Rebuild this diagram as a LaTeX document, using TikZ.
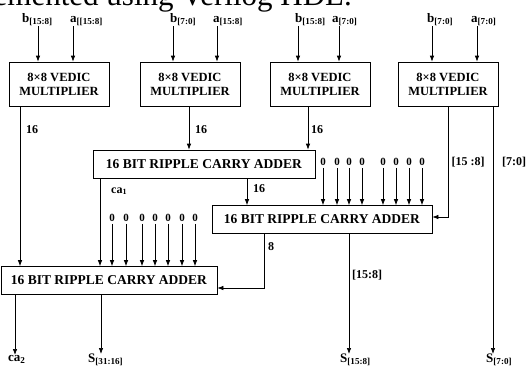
\documentclass[tikz,border=0pt]{standalone}
\usepackage{fontspec}
\setmainfont{Liberation Serif}
\usetikzlibrary{arrows.meta}
\begin{document}
\begin{tikzpicture}[x=1pt, y=-1pt, >={Latex[length=6pt,width=4.5pt]},
    mult/.style={rectangle, draw=black, line width=0.7pt, minimum width=100pt, minimum height=44pt,
                 inner sep=0pt, align=center, font=\fontsize{12.5}{14}\selectfont\bfseries},
    rca/.style={rectangle, draw=black, line width=0.7pt, minimum height=28pt,
                inner sep=0pt, font=\fontsize{13.5}{15}\selectfont\bfseries},
    sig/.style={->, line width=0.7pt, draw=black},
    lbl/.style={inner sep=0pt, font=\fontsize{12}{13}\selectfont\bfseries},
    io/.style={inner sep=0pt, font=\fontsize{13}{14}\selectfont\bfseries},
    nul/.style={inner sep=0pt, font=\fontsize{11}{12}\selectfont\bfseries}]

    \useasboundingbox (0,0) rectangle (527,370);
    \node (cap) [anchor=base east, inner sep=0pt, font=\fontsize{31}{32}\selectfont] at (352,5) {implemented using Verilog HDL.};

    \node (m1) [mult] at (59,84)  {8×8 VEDIC\\MULTIPLIER};
    \node (m2) [mult] at (190,84) {8×8 VEDIC\\MULTIPLIER};
    \node (m3) [mult] at (320,84) {8×8 VEDIC\\MULTIPLIER};
    \node (m4) [mult] at (448,84) {8×8 VEDIC\\MULTIPLIER};
    \node (r1) [rca, minimum width=222pt] at (204,164)   {16 BIT RIPPLE CARRY ADDER};
    \node (r2) [rca, minimum width=220pt] at (322,219.5) {16 BIT RIPPLE CARRY ADDER};
    \node (r3) [rca, minimum width=216pt] at (109,280.5) {16 BIT RIPPLE CARRY ADDER};

    % ulazi
    \node (lb1) [io, anchor=base west] at (22,22)  {b\textsubscript{[15:8]}};
    \node (la1) [io, anchor=base west] at (70,22)  {a\textsubscript{[[15:8]}};
    \node (lb2) [io, anchor=base west] at (170,22) {b\textsubscript{[7:0]}};
    \node (la2) [io, anchor=base west] at (213,22) {a\textsubscript{[15:8]}};
    \node (lb3) [io, anchor=base west] at (295,22) {b\textsubscript{[15:8]}};
    \node (la3) [io, anchor=base west] at (332,22) {a\textsubscript{[7:0]}};
    \node (lb4) [io, anchor=base west] at (427,22) {b\textsubscript{[7:0]}};
    \node (la4) [io, anchor=base west] at (471,22) {a\textsubscript{[7:0]}};
    \foreach \x/\m [count=\i] in {38/m1,73/m1,173/m2,217/m2,298/m3,339/m3,432/m4,477/m4} {
        \coordinate (in\i) at (\x,26);
        \draw [sig] (in\i) -- (in\i |- \m.north);
    }

    % izlazi
    \node (ca2) [io, anchor=north west] at (8,355)   {ca\textsubscript{2}};
    \node (s2)  [io, anchor=north west] at (88,354)  {S\textsubscript{[31:16]}};
    \node (s3)  [io, anchor=north west] at (340,354) {S\textsubscript{[15:8]}};
    \node (s4)  [io, anchor=north west] at (486,354) {S\textsubscript{[7:0]}};

    % proizvodi mnozaca
    \draw [sig] ([xshift=-39pt]m1.south) -- ([xshift=-39pt]m1.south |- r3.north);
    \node (n1) [lbl] at (32,130) {16};
    \draw [sig] ([xshift=-1pt]m2.south) -- ([xshift=-1pt]m2.south |- r1.north);
    \node (n2) [lbl] at (201,130) {16};
    \draw [sig] ([xshift=-12pt]m3.south) -- ([xshift=-12pt]m3.south |- r1.north);
    \node (n3) [lbl] at (317,130) {16};
    \draw [sig] (m4.south) |- ([yshift=2.5pt]r2.east);
    \node (hi) [lbl] at (468,162) {[15 :8]};
    \draw [sig] ([xshift=45pt]m4.south) -- ([xshift=45pt]m4.south |- s4.north);
    \node (lo) [lbl] at (514,162) {[7:0]};

    % nule
    \foreach \x [count=\i] in {323,337,349,362,383,396,409,422} {
        \node (za\i) [nul] at (\x,162) {0};
        \draw [sig] ([yshift=-2pt]za\i.south) -- (za\i.south |- r2.north);
    }
    \foreach \x [count=\i] in {112,126,142,155,168,182,195} {
        \node (zb\i) [nul] at (\x,218) {0};
        \draw [sig] ([yshift=-2pt]zb\i.south) -- (zb\i.south |- r3.north);
    }

    % sabiraci
    \draw [sig] ([xshift=-104pt]r1.south) -- ([xshift=-104pt]r1.south |- r3.north);
    \node (c1) [lbl, anchor=base west] at (111,193) {ca\textsubscript{1}};
    \draw [sig] ([xshift=43pt]r1.south) -- ([xshift=43pt]r1.south |- r2.north);
    \node (n4) [lbl] at (259,189) {16};
    \draw [sig] ([xshift=-58pt]r2.south) |- ([yshift=-7.5pt]r3.east);
    \node (n5) [lbl] at (271,247) {8};
    \draw [sig] ([xshift=27pt]r2.south) -- ([xshift=27pt]r2.south |- s3.north);
    \node (n6) [lbl] at (367,275) {[15:8]};
    \draw [sig] ([xshift=-94pt]r3.south) -- ([xshift=-94pt]r3.south |- ca2.north);
    \draw [sig] ([xshift=-8pt]r3.south) -- ([xshift=-8pt]r3.south |- s2.north);
\end{tikzpicture}
\end{document}
